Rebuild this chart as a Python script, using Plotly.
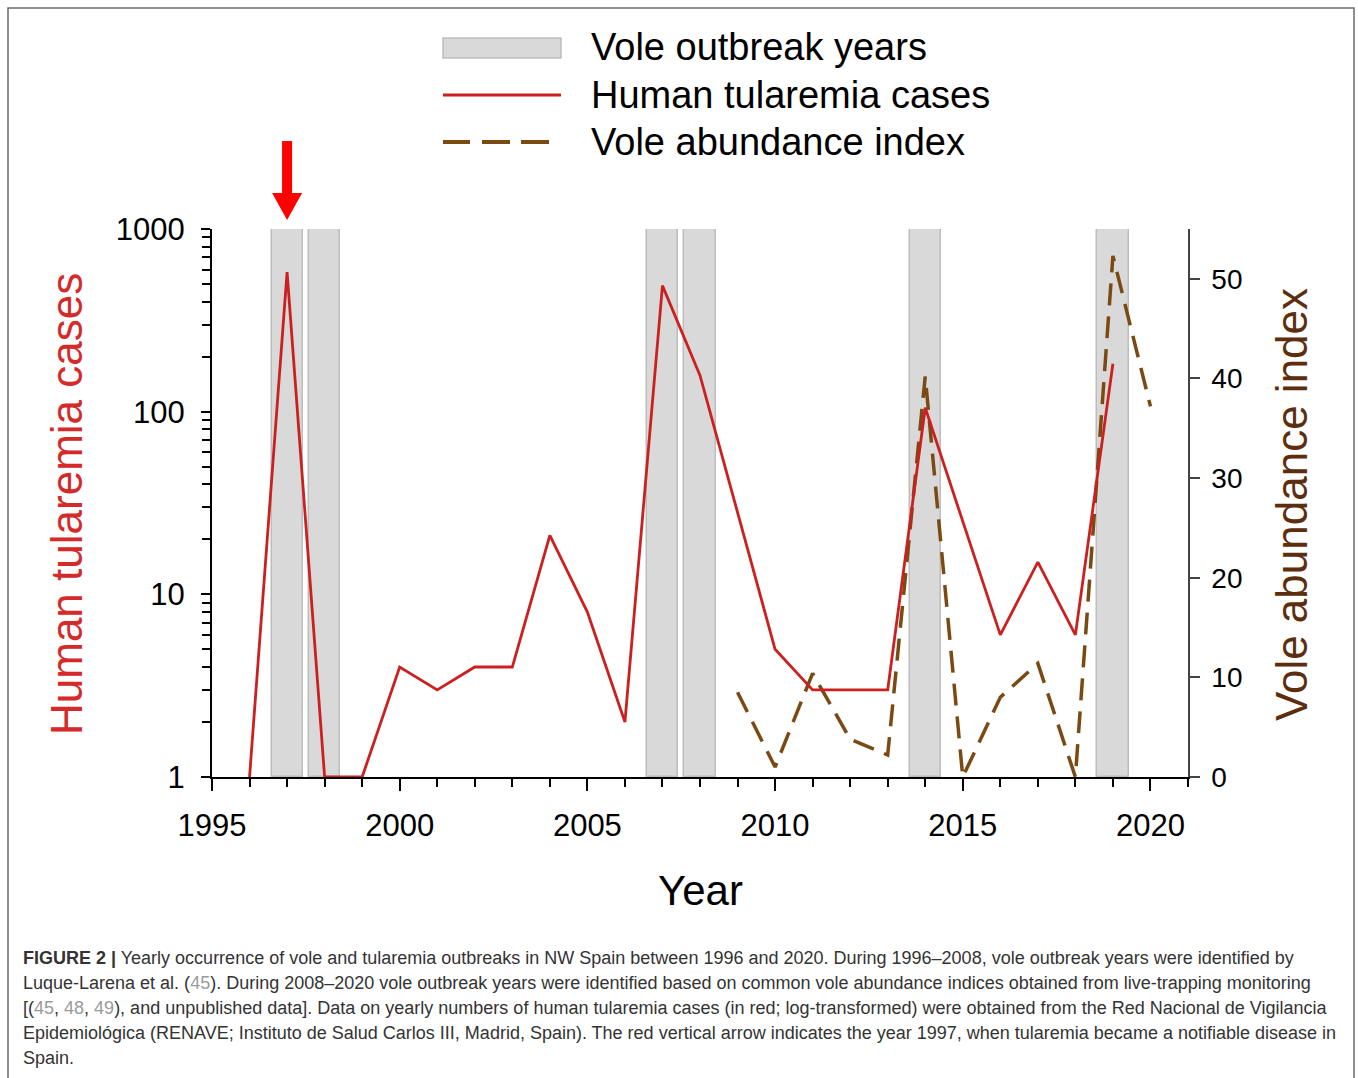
import plotly.graph_objects as go

# ---------------- data ----------------
case_years = list(range(1996, 2020))
human_cases = [1, 580, 1, 1, 4, 3, 4, 4, 21, 8, 2, 490, 158, 28, 5, 3, 3, 3, 105, 25, 6, 15, 6, 183]

vole_years = list(range(2009, 2021))
vole_index = [8.5, 1.0, 10.4, 3.8, 2.2, 40.2, 0.0, 8.0, 11.4, 0.0, 52.3, 37.2]

outbreak_years = [1997, 1998, 2007, 2008, 2014, 2019]

x_tick_vals = [1995, 2000, 2005, 2010, 2015, 2020]
x_tick_text = ["1995", "2000", "2005", "2010", "2015", "2020"]
left_tick_vals = [1, 10, 100, 1000]
left_tick_text = ["1", "10", "100", "1000"]
right_tick_vals = [0, 10, 20, 30, 40, 50]
right_tick_text = ["0", "10", "20", "30", "40", "50"]
left_minor = [m * d for d in (1, 10, 100) for m in range(2, 10)]

arrow_year = 1997
VOLE_MAX = 55
X_RANGE = [1995, 2021]

# ---------------- geometry helpers ----------------
W, H = 1358, 1078
L, R, T, B = 212, 170, 229, 301
PW, PH = W - L - R, H - T - B


def px(x):
    return (x - L) / PW


def py(y):
    return (T + PH - y) / PH


FONT = "Liberation Sans, Arial, sans-serif"
RED_LINE = "#cc2020"
RED_TITLE = "#d42a2a"
BROWN_LINE = "#7b4a12"
BROWN_TITLE = "#5c2e0e"
GRAY_FILL = "#d9d9d9"
GRAY_EDGE = "#bdbdbd"

fig = go.Figure()

# outbreak year bars (primary linear axis, drawn lowest)
fig.add_trace(go.Bar(
    x=outbreak_years, y=[VOLE_MAX] * len(outbreak_years), base=0,
    width=0.83, yaxis="y", xaxis="x",
    marker=dict(color=GRAY_FILL, line=dict(color=GRAY_EDGE, width=1.5)),
    showlegend=False, hoverinfo="skip",
))

# vole abundance index (linear, right axis)
fig.add_trace(go.Scatter(
    x=vole_years, y=vole_index, mode="lines", yaxis="y",
    line=dict(color=BROWN_LINE, width=3.5, dash="22px,11px"),
    showlegend=False,
))

# human tularemia cases (log, left axis)
fig.add_trace(go.Scatter(
    x=case_years, y=human_cases, mode="lines", yaxis="y2",
    line=dict(color=RED_LINE, width=2.8),
    showlegend=False,
))

shapes = []
# frame
shapes.append(dict(type="rect", xref="paper", yref="paper",
                   x0=px(8), x1=px(1354), y0=py(1090), y1=py(8),
                   line=dict(color="#6a6a6a", width=1.5), fillcolor="rgba(0,0,0,0)"))

# custom legend
shapes.append(dict(type="rect", xref="paper", yref="paper",
                   x0=px(443), x1=px(561), y0=py(58), y1=py(38),
                   line=dict(color=GRAY_EDGE, width=1.5), fillcolor=GRAY_FILL))
shapes.append(dict(type="line", xref="paper", yref="paper",
                   x0=px(443), x1=px(561), y0=py(95), y1=py(95),
                   line=dict(color=RED_LINE, width=3)))
for a, b in [(443, 470), (482, 510), (521, 549)]:
    shapes.append(dict(type="line", xref="paper", yref="paper",
                       x0=px(a), x1=px(b), y0=py(142), y1=py(142),
                       line=dict(color=BROWN_LINE, width=4)))

# red arrow marking 1997
yr_px = PW / (X_RANGE[1] - X_RANGE[0])
sw = 5 / yr_px
hw = 15 / yr_px
ys0, ys1, yt = py(141), py(193), py(220)
path = (f"M {arrow_year - sw},{ys0} L {arrow_year + sw},{ys0} L {arrow_year + sw},{ys1} "
        f"L {arrow_year + hw},{ys1} L {arrow_year},{yt} L {arrow_year - hw},{ys1} "
        f"L {arrow_year - sw},{ys1} Z")
shapes.append(dict(type="path", xref="x", yref="paper", path=path,
                   fillcolor="#ff0000", line=dict(color="#ff0000", width=0)))

annotations = []
legend_items = [("Vole outbreak years", 47), ("Human tularemia cases", 95), ("Vole abundance index", 142)]
for txt, yc in legend_items:
    annotations.append(dict(text=txt, xref="paper", yref="paper", x=px(589), y=py(yc),
                            xanchor="left", yanchor="middle", showarrow=False,
                            font=dict(family=FONT, size=38, color="#000000")))

annotations.append(dict(text="Human tularemia cases", xref="paper", yref="paper",
                        x=px(66), y=py(504), textangle=-90, showarrow=False,
                        xanchor="center", yanchor="middle",
                        font=dict(family=FONT, size=44, color=RED_TITLE)))
annotations.append(dict(text="Vole abundance index", xref="paper", yref="paper",
                        x=px(1292), y=py(505), textangle=-90, showarrow=False,
                        xanchor="center", yanchor="middle",
                        font=dict(family=FONT, size=44, color=BROWN_TITLE)))
annotations.append(dict(text="Year", xref="paper", yref="paper",
                        x=px(700), y=py(890), showarrow=False,
                        xanchor="center", yanchor="middle",
                        font=dict(family=FONT, size=42, color="#000000")))

ref = lambda n: f"<span style='color:#9a9a9a'>{n}</span>"
caption_lines = [
    "<b>FIGURE 2 |</b> Yearly occurrence of vole and tularemia outbreaks in NW Spain between 1996 and 2020. During 1996–2008, vole outbreak years were identified by",
    f"Luque-Larena et al. ({ref(45)}). During 2008–2020 vole outbreak years were identified based on common vole abundance indices obtained from live-trapping monitoring",
    f"[({ref(45)}, {ref(48)}, {ref(49)}), and unpublished data]. Data on yearly numbers of human tularemia cases (in red; log-transformed) were obtained from the Red Nacional de Vigilancia",
    "Epidemiológica (RENAVE; Instituto de Salud Carlos III, Madrid, Spain). The red vertical arrow indicates the year 1997, when tularemia became a notifiable disease in",
    "Spain.",
]
for i, line in enumerate(caption_lines):
    annotations.append(dict(text=line, xref="paper", yref="paper",
                            x=px(21), y=py(958 + 25 * i), xanchor="left", yanchor="middle",
                            showarrow=False, align="left",
                            font=dict(family=FONT, size=18, color="#333333")))

fig.update_layout(
    width=W, height=H,
    margin=dict(l=L, r=R, t=T, b=B, pad=0),
    paper_bgcolor="white", plot_bgcolor="white",
    font=dict(family=FONT, color="#000000"),
    showlegend=False,
    bargap=0,
    xaxis=dict(
        range=X_RANGE, tickmode="array", tickvals=x_tick_vals, ticktext=x_tick_text,
        ticks="outside", ticklen=12, tickwidth=2, tickcolor="#000",
        minor=dict(ticks="outside", dtick=1, tick0=1995, ticklen=8, tickwidth=2, tickcolor="#000"),
        showline=True, linecolor="#000", linewidth=2, showgrid=False, zeroline=False,
        tickfont=dict(family=FONT, size=31, color="#000"),
        ticklabelstandoff=8,
    ),
    yaxis=dict(
        range=[0, VOLE_MAX], side="right", tickmode="array",
        tickvals=right_tick_vals, ticktext=right_tick_text,
        ticks="outside", ticklen=10, tickwidth=1.5, tickcolor="#444",
        showline=True, linecolor="#444", linewidth=1.5, showgrid=False, zeroline=False,
        tickfont=dict(family=FONT, size=28, color="#000"),
        ticklabelstandoff=6,
    ),
    yaxis2=dict(
        type="log", range=[0, 3], side="left", overlaying="y", anchor="x",
        tickmode="array", tickvals=left_tick_vals, ticktext=left_tick_text,
        ticks="outside", ticklen=9, tickwidth=2, tickcolor="#000",
        minor=dict(ticks="outside", tickmode="array", tickvals=left_minor,
                   ticklen=8, tickwidth=1.5, tickcolor="#000"),
        showline=True, linecolor="#000", linewidth=2, showgrid=False, zeroline=False,
        tickfont=dict(family=FONT, size=31, color="#000"),
        ticklabelstandoff=10,
    ),
    shapes=shapes,
    annotations=annotations,
)

fig.write_html("out.html", config={"displayModeBar": False},
               post_script="document.body.style.margin='0';document.body.style.overflow='hidden';")
